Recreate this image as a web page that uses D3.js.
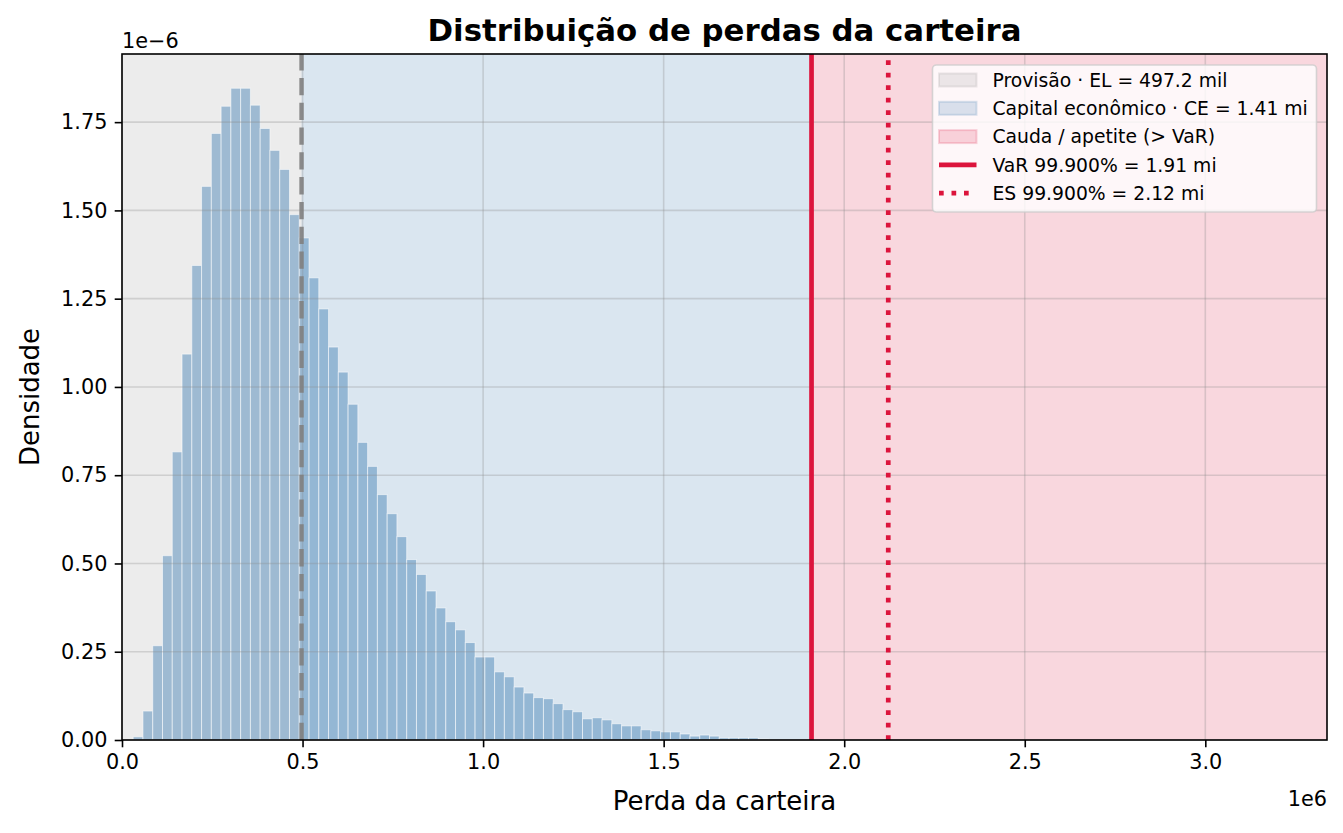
<!DOCTYPE html>
<html>
<head>
<meta charset="utf-8">
<script src="https://cdn.jsdelivr.net/npm/d3@7"></script>
<style>
  body { margin: 0; background: #ffffff; }
  text { font-family: "DejaVu Sans", sans-serif; fill: #000; }
</style>
</head>
<body>
<main></main>
<script>
// histogram (density in units of 1e-6)
const binStart = 31000;
const binWidth = 27050;
const densities = [
  0.009, 0.082, 0.267, 0.522, 0.816, 1.093, 1.344, 1.568, 1.718, 1.795,
  1.846, 1.846, 1.798, 1.732, 1.670, 1.616, 1.488, 1.422, 1.309, 1.221,
  1.113, 1.042, 0.951, 0.843, 0.775, 0.695, 0.641, 0.576, 0.511, 0.469,
  0.422, 0.374, 0.335, 0.312, 0.276, 0.235, 0.235, 0.193, 0.179, 0.150,
  0.133, 0.120, 0.117, 0.103, 0.086, 0.080, 0.060, 0.063, 0.057, 0.046,
  0.040, 0.040, 0.029, 0.026, 0.023, 0.023, 0.017, 0.011, 0.014, 0.011,
  0.006, 0.006, 0.006, 0.006, 0.003
];

// risk markers
const EL = 497200;
const VaR = 1909500;
const ES = 2122000;
const xMax = 3337000;
const yMax = 1.943;

const xTicks = [0, 500000, 1000000, 1500000, 2000000, 2500000, 3000000];
const yTicks = [0, 0.25, 0.5, 0.75, 1.0, 1.25, 1.5, 1.75];

const legendLabels = [
  "Provisão · EL = 497.2 mil",
  "Capital econômico · CE = 1.41 mi",
  "Cauda / apetite (> VaR)",
  "VaR 99.900% = 1.91 mi",
  "ES 99.900% = 2.12 mi"
];

const W = 1343, H = 833;
const pLeft = 122, pRight = 1327, pTop = 54, pBottom = 740;

const svg = d3.select("main").append("svg")
    .attr("width", W)
    .attr("height", H);

const x = d3.scaleLinear().domain([0, xMax]).range([pLeft, pRight]);
const y = d3.scaleLinear().domain([0, yMax]).range([pBottom, pTop]);

//background spans
const spans = [
  {from: 0, to: EL, color: "gray", op: 0.15},
  {from: EL, to: VaR, color: "steelblue", op: 0.2},
  {from: VaR, to: xMax, color: "crimson", op: 0.17}
];
svg.selectAll(".span")
    .data(spans)
    .join("rect")
    .attr("class", "span")
    .attr("x", d => x(d.from))
    .attr("width", d => x(d.to) - x(d.from))
    .attr("y", pTop)
    .attr("height", pBottom - pTop)
    .attr("fill", d => d.color)
    .attr("fill-opacity", d => d.op);

//bars
const bins = densities.map((v, i) => ({x0: binStart + i * binWidth, x1: binStart + (i + 1) * binWidth, v: v}));
svg.selectAll(".bar")
    .data(bins)
    .join("rect")
    .attr("class", "bar")
    .attr("x", d => x(d.x0))
    .attr("width", d => x(d.x1) - x(d.x0))
    .attr("y", d => y(d.v))
    .attr("height", d => y(0) - y(d.v))
    .attr("fill", "steelblue")
    .attr("fill-opacity", 0.47)
    .attr("stroke", "#ffffff")
    .attr("stroke-opacity", 0.55)
    .attr("stroke-width", 1);

//grid
svg.selectAll(".gx")
    .data(xTicks)
    .join("line")
    .attr("class", "gx")
    .attr("x1", d => x(d)).attr("x2", d => x(d))
    .attr("y1", pTop).attr("y2", pBottom)
    .attr("stroke", "#8a8a8a").attr("stroke-opacity", 0.3).attr("stroke-width", 1.6);
svg.selectAll(".gy")
    .data(yTicks)
    .join("line")
    .attr("class", "gy")
    .attr("x1", pLeft).attr("x2", pRight)
    .attr("y1", d => y(d)).attr("y2", d => y(d))
    .attr("stroke", "#8a8a8a").attr("stroke-opacity", 0.3).attr("stroke-width", 1.6);

//marker lines
svg.append("line")
    .attr("x1", x(EL)).attr("x2", x(EL))
    .attr("y1", pBottom).attr("y2", pTop)
    .attr("stroke", "#808080").attr("stroke-opacity", 0.9)
    .attr("stroke-width", 4.4)
    .attr("stroke-dasharray", "17.3,7.5");
svg.append("line")
    .attr("x1", x(VaR)).attr("x2", x(VaR))
    .attr("y1", pBottom).attr("y2", pTop)
    .attr("stroke", "crimson")
    .attr("stroke-width", 4.7);
svg.append("line")
    .attr("x1", x(ES)).attr("x2", x(ES))
    .attr("y1", pBottom).attr("y2", pTop)
    .attr("stroke", "crimson")
    .attr("stroke-width", 4.7)
    .attr("stroke-dasharray", "4.7,7.8");

//axes
const xAxis = svg.append("g")
    .attr("transform", `translate(0,${pBottom})`)
    .call(d3.axisBottom(x).tickValues(xTicks).tickFormat(d => (d / 1e6).toFixed(1)).tickSize(7.3).tickPadding(7.3));
const yAxis = svg.append("g")
    .attr("transform", `translate(${pLeft},0)`)
    .call(d3.axisLeft(y).tickValues(yTicks).tickFormat(d => d.toFixed(2)).tickSize(7.3).tickPadding(7.3));
[xAxis, yAxis].forEach(g => {
    g.select(".domain").remove();
    g.selectAll(".tick line").attr("stroke", "#000").attr("stroke-width", 1.6);
    g.selectAll(".tick text")
        .style("font-family", "DejaVu Sans, sans-serif")
        .style("font-size", "20.8px")
        .attr("fill", "#000");
});

//spines
svg.append("rect")
    .attr("x", pLeft).attr("y", pTop)
    .attr("width", pRight - pLeft).attr("height", pBottom - pTop)
    .attr("fill", "none")
    .attr("stroke", "#000")
    .attr("stroke-width", 1.6);

//offset texts
svg.append("text")
    .text("1e\u22126")
    .attr("x", pLeft)
    .attr("y", 48)
    .style("font-size", "20.8px");
svg.append("text")
    .text("1e6")
    .attr("x", pRight)
    .attr("y", 806)
    .attr("text-anchor", "end")
    .style("font-size", "20.8px");

//labels
svg.append("text")
    .text("Distribuição de perdas da carteira")
    .attr("x", (pLeft + pRight) / 2)
    .attr("y", 41)
    .attr("text-anchor", "middle")
    .style("font-size", "30.8px")
    .style("font-weight", "bold");
svg.append("text")
    .text("Perda da carteira")
    .attr("x", (pLeft + pRight) / 2)
    .attr("y", 810)
    .attr("text-anchor", "middle")
    .style("font-size", "26px");
svg.append("text")
    .text("Densidade")
    .attr("transform", `translate(39,${(pTop + pBottom) / 2}) rotate(-90)`)
    .attr("text-anchor", "middle")
    .style("font-size", "26px");

//legend
const leg = svg.append("g");
leg.append("rect")
    .attr("x", 932.5).attr("y", 65)
    .attr("width", 384).attr("height", 147)
    .attr("rx", 4)
    .attr("fill", "#ffffff").attr("fill-opacity", 0.8)
    .attr("stroke", "#cccccc").attr("stroke-opacity", 0.8)
    .attr("stroke-width", 1.6);

const rowY = i => 80 + i * 28.3;
const handles = [
  {type: "patch", color: "gray", op: 0.15},
  {type: "patch", color: "steelblue", op: 0.2},
  {type: "patch", color: "crimson", op: 0.17},
  {type: "line", dash: null},
  {type: "line", dash: "4.7,7.8"}
];
handles.forEach((h, i) => {
    if (h.type === "patch") {
        leg.append("rect")
            .attr("x", 939).attr("y", rowY(i) - 6.5)
            .attr("width", 37.5).attr("height", 13)
            .attr("fill", h.color).attr("fill-opacity", h.op)
            .attr("stroke", h.color).attr("stroke-opacity", h.op)
            .attr("stroke-width", 2);
    } else {
        leg.append("line")
            .attr("x1", 939).attr("x2", 976.5)
            .attr("y1", rowY(i)).attr("y2", rowY(i))
            .attr("stroke", "crimson")
            .attr("stroke-width", 4.7)
            .attr("stroke-dasharray", h.dash);
    }
});
leg.selectAll(".leg-label")
    .data(legendLabels)
    .join("text")
    .attr("class", "leg-label")
    .text(d => d)
    .attr("x", 992.5)
    .attr("y", (d, i) => rowY(i) + 6.6)
    .style("font-size", "18.75px");
</script>
</body>
</html>
